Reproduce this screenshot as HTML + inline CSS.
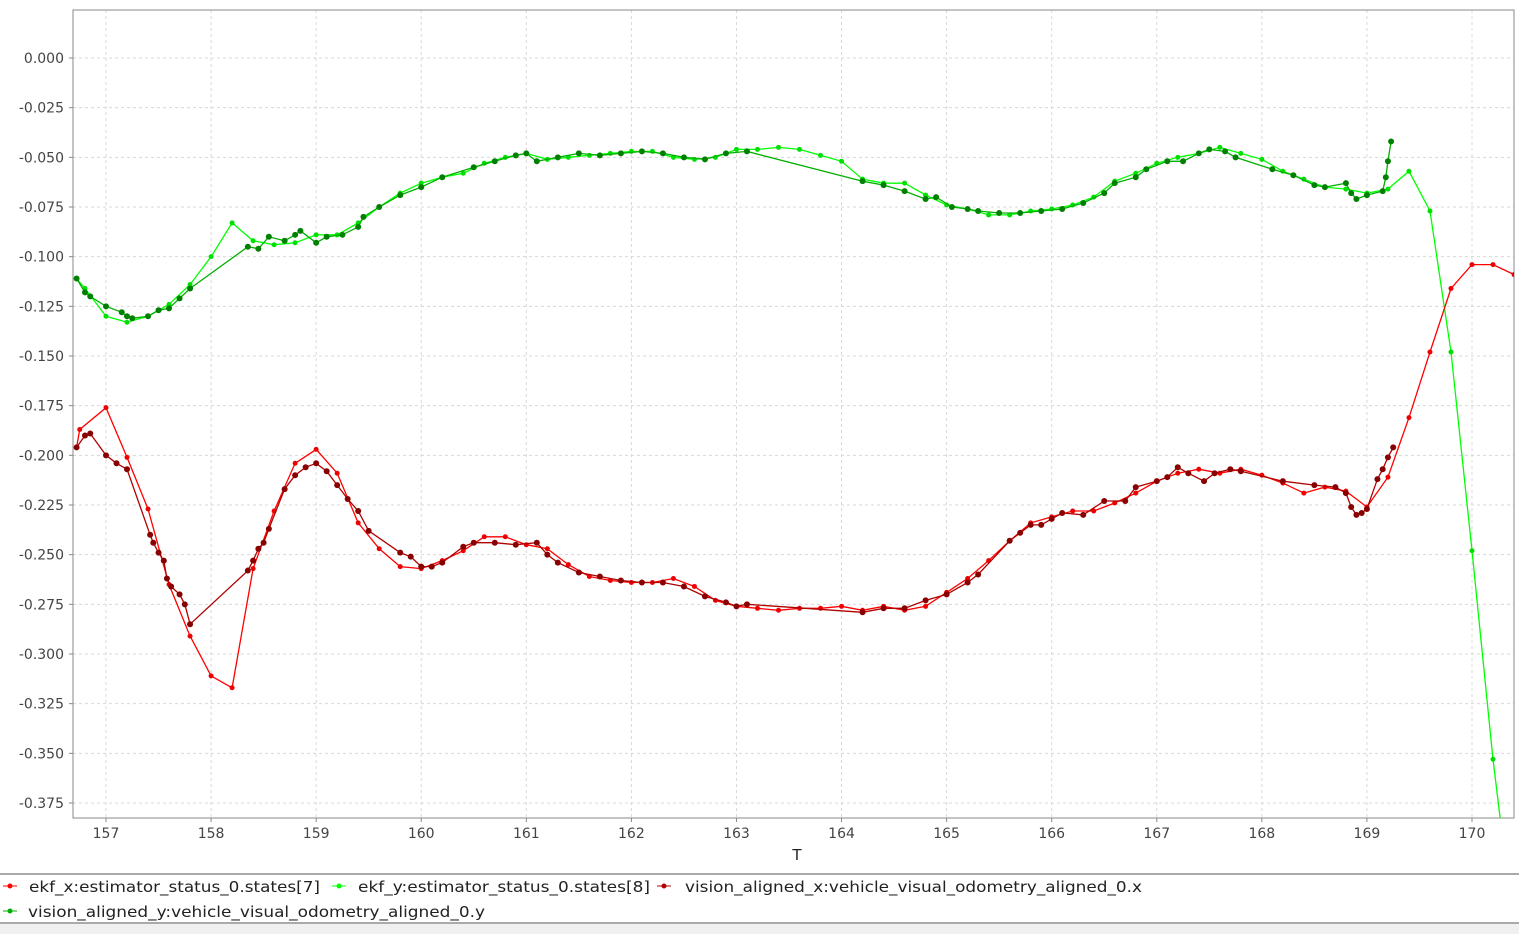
<!DOCTYPE html>
<html><head><meta charset="utf-8"><style>
body{margin:0;background:#fff;font-family:"Liberation Sans","DejaVu Sans",sans-serif;}
svg text{font-family:"DejaVu Sans","Liberation Sans",sans-serif;}
</style></head><body>
<svg id="chart" width="1519" height="934" xmlns="http://www.w3.org/2000/svg">
<rect x="0" y="0" width="1519" height="934" fill="#fff"/>
<g id="grid"></g>
<rect x="73" y="10" width="1441" height="808" fill="none" stroke="#888" stroke-width="1"/>
<g id="axes"></g>
<g id="series"></g>
<text x="797" y="860" font-size="15" text-anchor="middle" fill="#222">T</text>
<line x1="0" y1="874" x2="1519" y2="874" stroke="#555"/>
<line x1="0" y1="923" x2="1519" y2="923" stroke="#555"/>
<rect x="0" y="924" width="1519" height="10" fill="#f0f0f0"/>
<g font-size="15" fill="#222">
<g><line x1="3" y1="886" x2="17" y2="886" stroke="#ff0000"/><circle cx="10" cy="886" r="2.5" fill="#ff0000"/><text x="29" y="892" textLength="291" lengthAdjust="spacingAndGlyphs">ekf_x:estimator_status_0.states[7]</text></g>
<g><line x1="332" y1="886" x2="346" y2="886" stroke="#00ff00"/><circle cx="339" cy="886" r="2.5" fill="#00ff00"/><text x="358" y="892" textLength="292" lengthAdjust="spacingAndGlyphs">ekf_y:estimator_status_0.states[8]</text></g>
<g><line x1="657" y1="886" x2="671" y2="886" stroke="#b00000"/><circle cx="664" cy="886" r="2.5" fill="#b00000"/><text x="685" y="892" textLength="457" lengthAdjust="spacingAndGlyphs">vision_aligned_x:vehicle_visual_odometry_aligned_0.x</text></g>
<g><line x1="3" y1="911" x2="17" y2="911" stroke="#00b000"/><circle cx="10" cy="911" r="2.5" fill="#00b000"/><text x="28" y="917" textLength="457" lengthAdjust="spacingAndGlyphs">vision_aligned_y:vehicle_visual_odometry_aligned_0.y</text></g>
</g>
</svg>
<script>
const xTicks=[157,158,159,160,161,162,163,164,165,166,167,168,169,170];
const yTicks=[0,-0.025,-0.05,-0.075,-0.1,-0.125,-0.15,-0.175,-0.2,-0.225,-0.25,-0.275,-0.3,-0.325,-0.35,-0.375];
const ekfXt=[156.72,156.75,157.0,157.2,157.4,157.6,157.8,158.0,158.2,158.4,158.6,158.8,159.0,159.2,159.4,159.6,159.8,160.0,160.2,160.4,160.6,160.8,161.0,161.2,161.4,161.6,161.8,162.0,162.2,162.4,162.6,162.8,163.0,163.2,163.4,163.6,163.8,164.0,164.2,164.4,164.6,164.8,165.0,165.2,165.4,165.6,165.8,166.0,166.2,166.4,166.6,166.8,167.0,167.2,167.4,167.6,167.8,168.0,168.2,168.4,168.6,168.8,169.0,169.2,169.4,169.6,169.8,170.0,170.2,170.4];
const ekfXv=[-0.196,-0.187,-0.176,-0.201,-0.227,-0.265,-0.291,-0.311,-0.317,-0.257,-0.228,-0.204,-0.197,-0.209,-0.234,-0.247,-0.256,-0.257,-0.253,-0.248,-0.241,-0.241,-0.245,-0.247,-0.255,-0.261,-0.263,-0.264,-0.264,-0.262,-0.266,-0.273,-0.276,-0.277,-0.278,-0.277,-0.277,-0.276,-0.278,-0.276,-0.278,-0.276,-0.269,-0.262,-0.253,-0.243,-0.234,-0.231,-0.228,-0.228,-0.224,-0.219,-0.213,-0.209,-0.207,-0.209,-0.207,-0.210,-0.214,-0.219,-0.216,-0.218,-0.226,-0.211,-0.181,-0.148,-0.116,-0.104,-0.104,-0.109];
const ekfYt=[156.72,156.8,157.0,157.2,157.4,157.6,157.8,158.0,158.2,158.4,158.6,158.8,159.0,159.2,159.4,159.6,159.8,160.0,160.2,160.4,160.6,160.8,161.0,161.2,161.4,161.6,161.8,162.0,162.2,162.4,162.6,162.8,163.0,163.2,163.4,163.6,163.8,164.0,164.2,164.4,164.6,164.8,165.0,165.2,165.4,165.6,165.8,166.0,166.2,166.4,166.6,166.8,167.0,167.2,167.4,167.6,167.8,168.0,168.2,168.4,168.6,168.8,169.0,169.2,169.4,169.6,169.8,170.0,170.2,170.4];
const ekfYv=[-0.111,-0.116,-0.130,-0.133,-0.130,-0.124,-0.114,-0.100,-0.083,-0.092,-0.094,-0.093,-0.089,-0.089,-0.083,-0.075,-0.068,-0.063,-0.060,-0.058,-0.053,-0.050,-0.048,-0.051,-0.050,-0.049,-0.048,-0.047,-0.047,-0.050,-0.051,-0.050,-0.046,-0.046,-0.045,-0.046,-0.049,-0.052,-0.061,-0.063,-0.063,-0.069,-0.074,-0.076,-0.079,-0.079,-0.077,-0.076,-0.074,-0.070,-0.062,-0.058,-0.053,-0.050,-0.048,-0.045,-0.048,-0.051,-0.057,-0.061,-0.065,-0.066,-0.068,-0.066,-0.057,-0.077,-0.148,-0.248,-0.353,-0.44];
const visXt=[156.72,156.8,156.85,157.0,157.1,157.2,157.42,157.45,157.5,157.55,157.58,157.62,157.7,157.75,157.8,158.35,158.4,158.45,158.5,158.55,158.7,158.8,158.9,159.0,159.1,159.2,159.3,159.4,159.5,159.8,159.9,160.0,160.1,160.2,160.4,160.5,160.7,160.9,161.1,161.2,161.3,161.5,161.7,161.9,162.1,162.3,162.5,162.7,162.9,163.0,163.1,164.2,164.4,164.6,164.8,165.0,165.2,165.3,165.6,165.7,165.8,165.9,166.0,166.1,166.3,166.5,166.7,166.8,167.0,167.1,167.2,167.3,167.45,167.55,167.7,167.8,168.2,168.5,168.7,168.8,168.85,168.9,168.95,169.0,169.1,169.15,169.2,169.25];
const visXv=[-0.196,-0.190,-0.189,-0.200,-0.204,-0.207,-0.240,-0.244,-0.249,-0.253,-0.262,-0.266,-0.270,-0.275,-0.285,-0.258,-0.253,-0.247,-0.244,-0.237,-0.217,-0.210,-0.206,-0.204,-0.208,-0.215,-0.222,-0.228,-0.238,-0.249,-0.251,-0.256,-0.256,-0.254,-0.246,-0.244,-0.244,-0.245,-0.244,-0.250,-0.254,-0.259,-0.261,-0.263,-0.264,-0.264,-0.266,-0.271,-0.274,-0.276,-0.275,-0.279,-0.277,-0.277,-0.273,-0.270,-0.264,-0.260,-0.243,-0.239,-0.235,-0.235,-0.232,-0.229,-0.230,-0.223,-0.223,-0.216,-0.213,-0.211,-0.206,-0.209,-0.213,-0.209,-0.207,-0.208,-0.213,-0.215,-0.216,-0.219,-0.226,-0.230,-0.229,-0.227,-0.212,-0.207,-0.201,-0.196];
const visYt=[156.72,156.8,156.85,157.0,157.15,157.2,157.25,157.4,157.5,157.6,157.7,157.8,158.35,158.45,158.55,158.7,158.8,158.85,159.0,159.1,159.25,159.4,159.45,159.6,159.8,160.0,160.2,160.5,160.7,160.9,161.0,161.1,161.3,161.5,161.7,161.9,162.1,162.3,162.5,162.7,162.9,163.1,164.2,164.4,164.6,164.8,164.9,165.05,165.2,165.3,165.5,165.7,165.9,166.1,166.3,166.5,166.6,166.8,166.9,167.1,167.25,167.4,167.5,167.65,167.75,168.1,168.3,168.5,168.6,168.8,168.85,168.9,169.0,169.15,169.18,169.2,169.23];
const visYv=[-0.111,-0.118,-0.120,-0.125,-0.128,-0.130,-0.131,-0.130,-0.127,-0.126,-0.121,-0.116,-0.095,-0.096,-0.090,-0.092,-0.089,-0.087,-0.093,-0.090,-0.089,-0.085,-0.080,-0.075,-0.069,-0.065,-0.060,-0.055,-0.052,-0.049,-0.048,-0.052,-0.050,-0.048,-0.049,-0.048,-0.047,-0.048,-0.050,-0.051,-0.048,-0.047,-0.062,-0.064,-0.067,-0.071,-0.070,-0.075,-0.076,-0.077,-0.078,-0.078,-0.077,-0.076,-0.073,-0.068,-0.063,-0.060,-0.056,-0.052,-0.052,-0.048,-0.046,-0.047,-0.050,-0.056,-0.059,-0.064,-0.065,-0.063,-0.068,-0.071,-0.069,-0.067,-0.060,-0.052,-0.042];
const NS='http://www.w3.org/2000/svg';
const L=73,R=1514,T=10,B=818;
function xs(v){return 106+(v-157)*(1472-106)/13;}
function ys(v){return 58+(-v)*(803-58)/0.375;}
const grid=document.getElementById('grid'),axes=document.getElementById('axes'),ser=document.getElementById('series');
function mk(tag,attrs,parent){const e=document.createElementNS(NS,tag);for(const k in attrs)e.setAttribute(k,attrs[k]);parent.appendChild(e);return e;}
xTicks.forEach(t=>{const x=xs(t);
 const g=mk('line',{x1:x,x2:x,y1:T,y2:B,stroke:'#d8d8d8','stroke-dasharray':'3,3'},grid);
 
 
 mk('line',{x1:x,x2:x,y1:B,y2:B+4,stroke:'#888'},axes);
 const tx=mk('text',{x:x,y:838,'font-size':14,'text-anchor':'middle',fill:'#444'},axes);tx.textContent=t;
 
 
});
yTicks.forEach(t=>{const y=ys(t);
 const g=mk('line',{x1:L,x2:R,y1:y,y2:y,stroke:'#d8d8d8','stroke-dasharray':'3,3'},grid);
 
 
 mk('line',{x1:L-4,x2:L,y1:y,y2:y,stroke:'#888'},axes);
 const tx=mk('text',{x:64,y:y+5,'font-size':14,'text-anchor':'end',fill:'#444'},axes);tx.textContent=t.toFixed(3);
 
 
});
const clip=mk('clipPath',{id:'pc'},document.getElementById('chart'));mk('rect',{x:L,y:T,width:R-L,height:B-T},clip);
ser.setAttribute('clip-path','url(#pc)');
function draw(ts,vs,line,mark,r,name){
 const g=mk('g',{},ser);
 
 
 const pts=ts.map((t,i)=>xs(t).toFixed(1)+','+ys(vs[i]).toFixed(1)).join(' ');
 const pl=mk('polyline',{points:pts,fill:'none',stroke:line,'stroke-width':1.3},g);
 
 
 ts.forEach((t,i)=>{const c=mk('circle',{cx:xs(t),cy:ys(vs[i]),r:r,fill:mark},g);
  
  });
}
draw(ekfYt,ekfYv,'#00ff00','#00e000',2.5,'ekf-y-series');
draw(ekfXt,ekfXv,'#ff0000','#ee0000',2.5,'ekf-x-series');
draw(visXt,visXv,'#b00000','#880000',3,'vision-x-series');
draw(visYt,visYv,'#00b000','#008000',3,'vision-y-series');
</script>
</body></html>
